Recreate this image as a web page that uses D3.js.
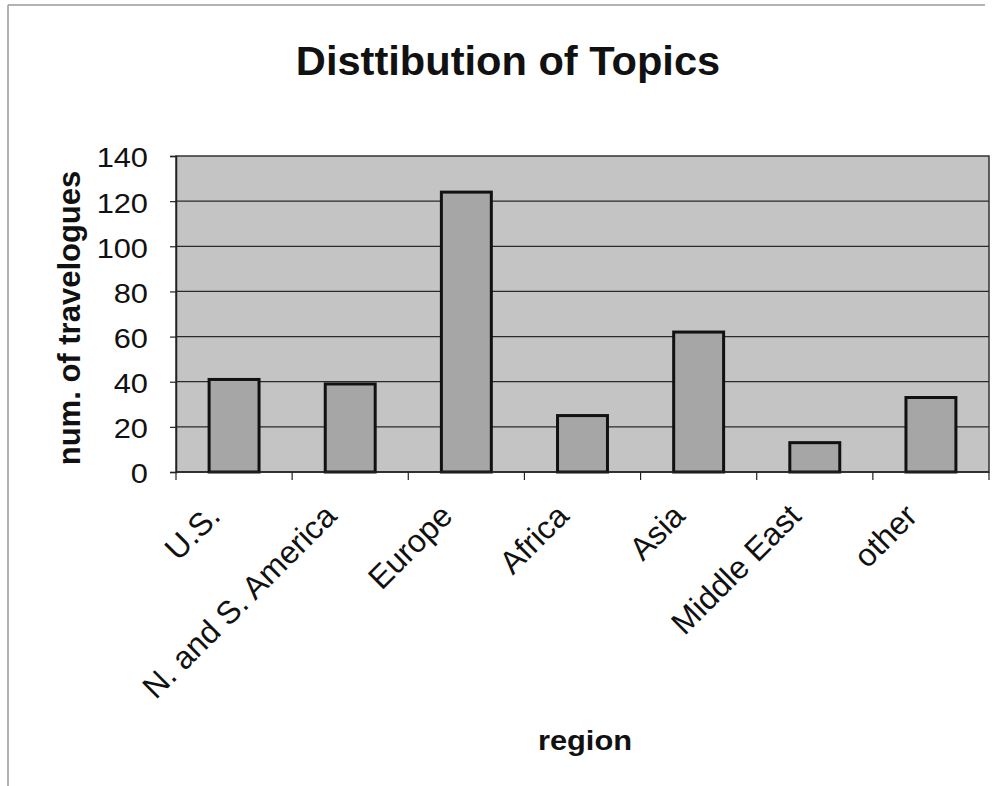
<!DOCTYPE html>
<html>
<head>
<meta charset="utf-8">
<script src="https://cdn.jsdelivr.net/npm/d3@7"></script>
<style>
  html, body { margin: 0; padding: 0; background: #fff; }
  svg { display: block; font-family: "Liberation Sans", Arial, sans-serif; }
</style>
</head>
<body>
<svg id="chart" width="998" height="786"></svg>
<script>
const categories = ["U.S.", "N. and S. America", "Europe", "Africa", "Asia", "Middle East", "other"];
const values = [41, 39, 124, 25, 62, 13, 33];
const yTicks = [0, 20, 40, 60, 80, 100, 120, 140];
const titleText = "Disttibution of Topics";
const xTitle = "region";
const yTitle = "num. of travelogues";

const svg = d3.select("#chart");
const plot = { left: 176, right: 989, top: 156, bottom: 472 };

// outer frame (partial, as in scan)
svg.append("line").attr("x1", 8).attr("x2", 8).attr("y1", 5).attr("y2", 786)
  .attr("stroke", "#9a9a9a").attr("stroke-width", 1.5);
svg.append("line").attr("x1", 8).attr("x2", 985).attr("y1", 5).attr("y2", 5)
  .attr("stroke", "#9a9a9a").attr("stroke-width", 1.5);

const x = d3.scaleBand().domain(categories).range([plot.left, plot.right]).paddingInner(0.57).paddingOuter(0.285);
const xb = d3.scaleBand().domain(categories).range([plot.left, plot.right]);
const y = d3.scaleLinear().domain([0, 140]).range([plot.bottom, plot.top]);

// plot background
svg.append("rect").attr("x", plot.left).attr("y", plot.top)
  .attr("width", plot.right - plot.left).attr("height", plot.bottom - plot.top)
  .attr("fill", "#c4c4c4").attr("stroke", "#333").attr("stroke-width", 1.5);

// gridlines
svg.append("g").selectAll("line").data(yTicks.filter(d => d > 0 && d < 140)).join("line")
  .attr("x1", plot.left).attr("x2", plot.right)
  .attr("y1", d => y(d)).attr("y2", d => y(d))
  .attr("stroke", "#2a2a2a").attr("stroke-width", 1.3);

// bars
svg.append("g").selectAll("rect").data(values).join("rect")
  .attr("x", (d, i) => x(categories[i]))
  .attr("y", d => y(d))
  .attr("width", x.bandwidth())
  .attr("height", d => y(0) - y(d))
  .attr("fill", "#a6a6a6").attr("stroke", "#111").attr("stroke-width", 3);

// y axis
const yAxis = svg.append("g").attr("transform", `translate(${plot.left},0)`)
  .call(d3.axisLeft(y).tickValues(yTicks).tickSize(6).tickPadding(0).tickFormat(d3.format("d")));
yAxis.select(".domain").attr("stroke", "#222").attr("stroke-width", 1.5);
yAxis.selectAll(".tick line").attr("stroke", "#222").attr("stroke-width", 1.2);
yAxis.selectAll(".tick text")
  .attr("x", 0).attr("dy", null)
  .attr("dominant-baseline", "central")
  .attr("text-anchor", "end")
  .attr("transform", "translate(-28,1) scale(1.1,1)")
  .attr("font-size", 28).attr("fill", "#111");

// x axis (ticks at category boundaries)
const xAxisG = svg.append("g").attr("transform", `translate(0,${plot.bottom})`);
xAxisG.append("line").attr("x1", plot.left).attr("x2", plot.right).attr("stroke", "#222").attr("stroke-width", 1.5);
const boundaries = categories.map(c => xb(c)).concat([plot.right]);
xAxisG.selectAll("line.tk").data(boundaries).join("line").attr("class", "tk")
  .attr("x1", d => d).attr("x2", d => d).attr("y1", 0).attr("y2", 8)
  .attr("stroke", "#222").attr("stroke-width", 1.2);
xAxisG.selectAll("text").data(categories).join("text")
  .attr("text-anchor", "end")
  .attr("transform", d => `translate(${xb(d) + xb.bandwidth() / 2 - 12},${46}) rotate(-45)`)
  .attr("font-size", 32).attr("fill", "#111")
  .text(d => d);

// title
svg.append("text").attr("text-anchor", "middle")
  .attr("transform", "translate(508,75) scale(1.04,1)")
  .attr("font-size", 40).attr("font-weight", "bold").attr("fill", "#111")
  .text(titleText);

// axis titles
svg.append("text").attr("text-anchor", "middle")
  .attr("transform", "translate(80,318) rotate(-90)")
  .attr("font-size", 31).attr("font-weight", "bold").attr("fill", "#111")
  .text(yTitle);
svg.append("text").attr("text-anchor", "middle")
  .attr("transform", "translate(585,750) scale(1.1,1)")
  .attr("font-size", 28).attr("font-weight", "bold").attr("fill", "#111")
  .text(xTitle);
</script>
</body>
</html>
